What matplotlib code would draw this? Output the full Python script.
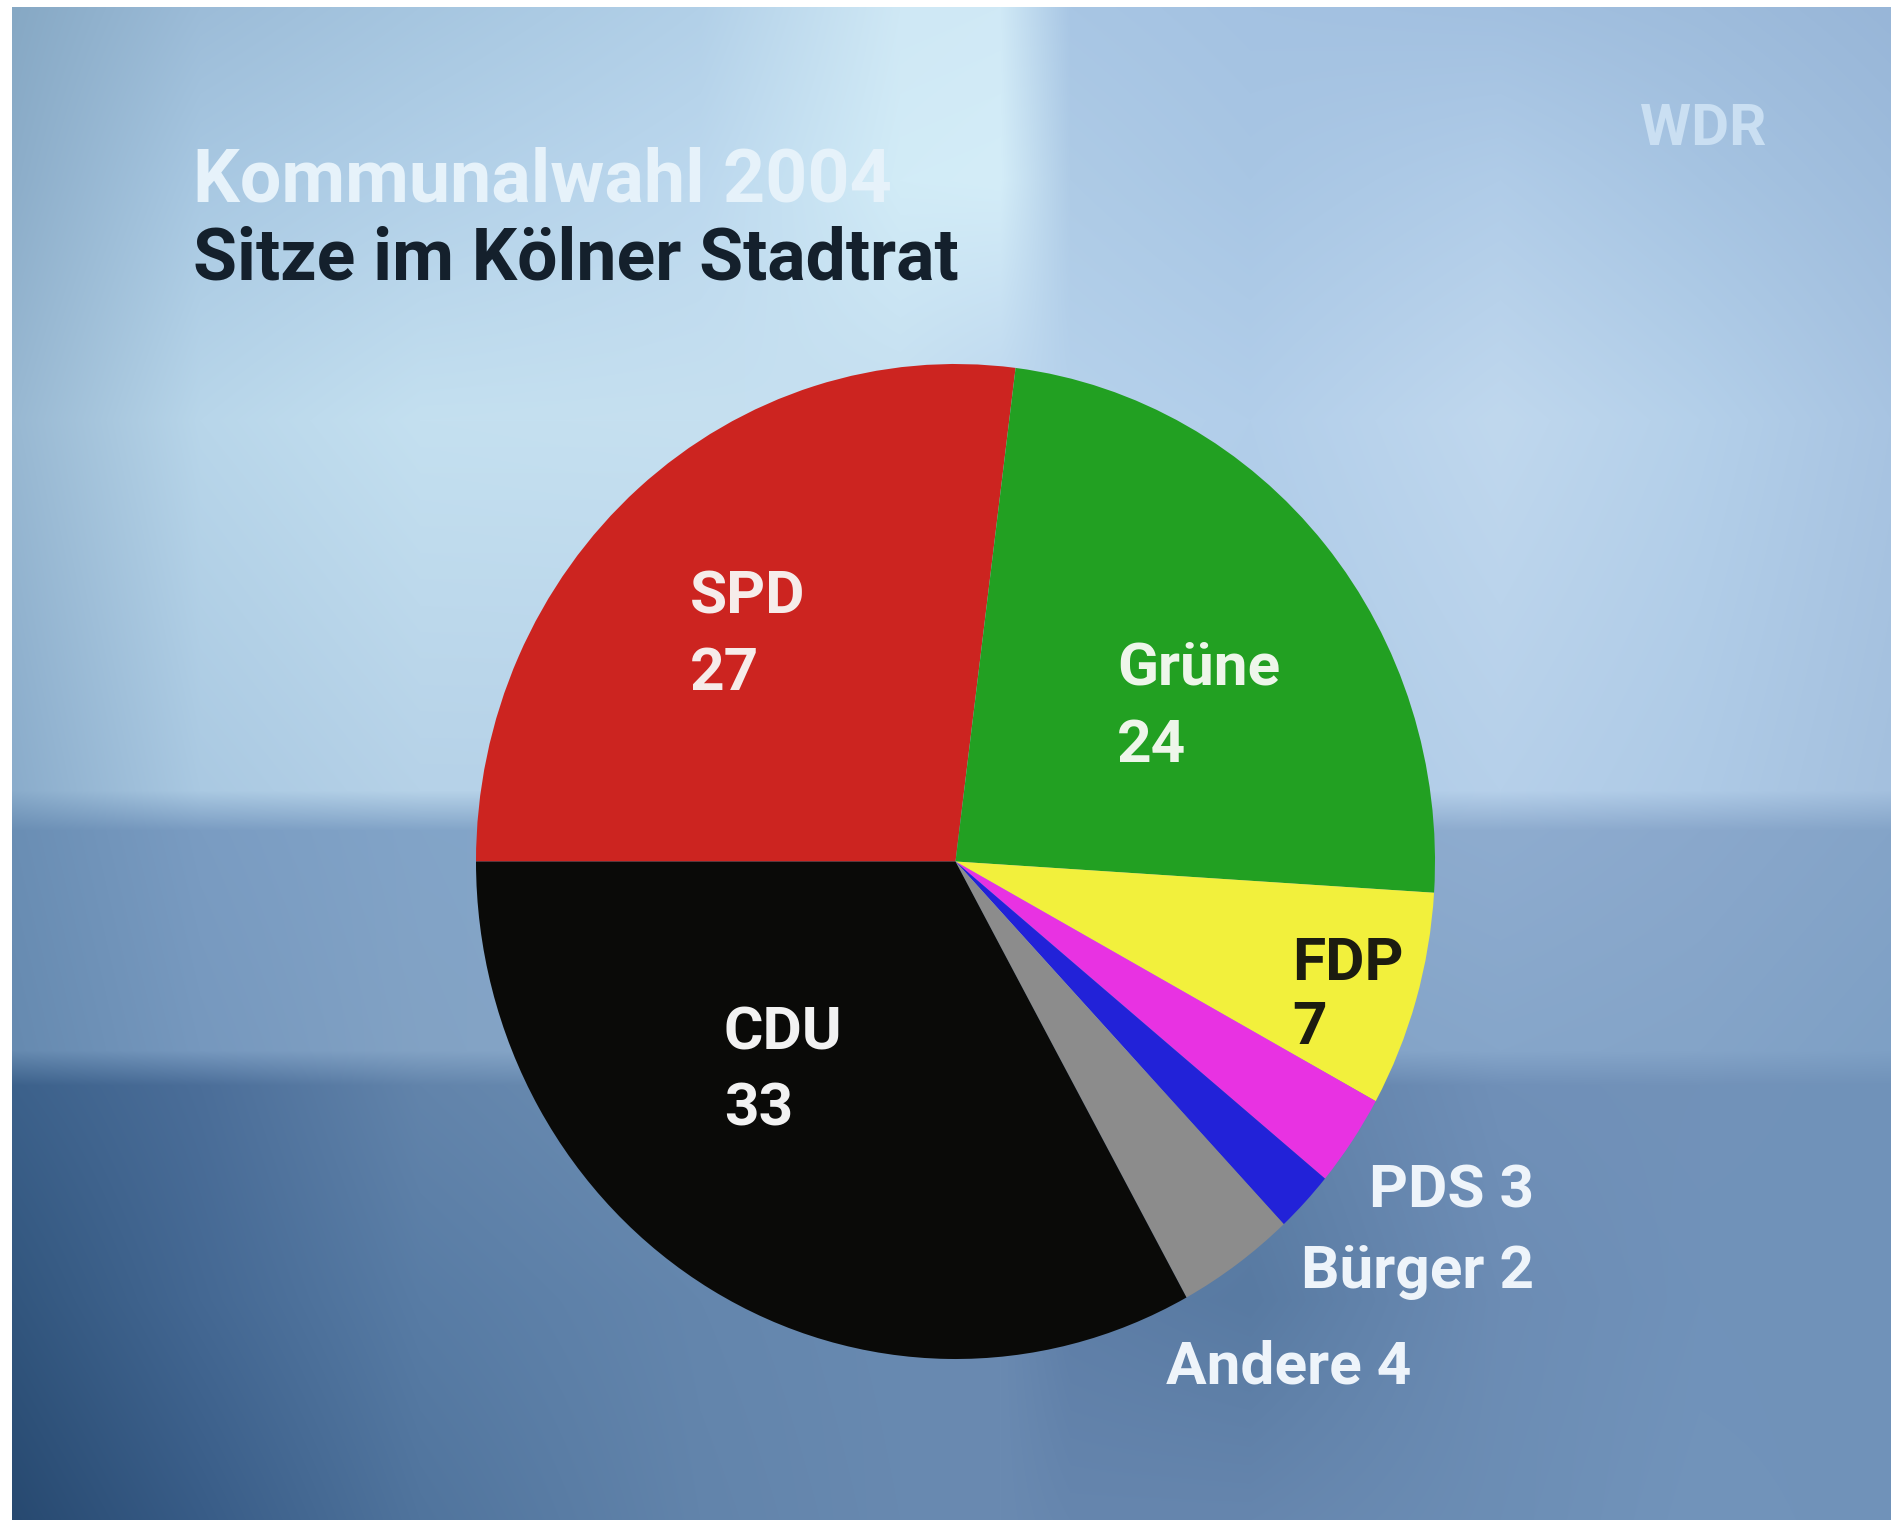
import numpy as np
import matplotlib
matplotlib.use("Agg")
import matplotlib.pyplot as plt
from matplotlib.colors import to_rgb

W, H = 1891, 1520

# seats in the Cologne city council, 2004
parties = ["SPD", "Grüne", "FDP", "PDS", "Bürger", "Andere", "CDU"]
seats = [27, 24, 7, 3, 2, 4, 33]
colors = ["#cc2420", "#22a022", "#f2f03c", "#e832e2", "#2222d8", "#8c8c8c", "#0a0a08"]

title_top = "Kommunalwahl 2004"
title_main = "Sitze im Kölner Stadtrat"
logo = "WDR"

# background: coarse colour grid (pixel coords), smoothed by interpolation
bg_x = [12, 200, 420, 700, 900, 1000, 1070, 1250, 1500, 1700, 1891]
bg_y = [7, 180, 420, 790, 830, 1050, 1085, 1300, 1520]
bg_rows = [
    ["#86a8c4", "#9cbcd8", "#a6c6e0", "#b2d0e8", "#cfe8f5", "#d0e9f6", "#a8c6e4", "#a4c2e2", "#a2c0e0", "#9ebcdc", "#98b6d8"],
    ["#8cadc9", "#a8c8e2", "#b2d0e8", "#bcd8ee", "#d2ecf7", "#d4edf8", "#aecbe6", "#a8c6e4", "#b0cce8", "#a6c4e2", "#9ebcdc"],
    ["#98b8d2", "#b8d6ea", "#c4e0f0", "#c6e0f0", "#c4def0", "#bcd6ee", "#b6d2ec", "#b2ceea", "#c0d8ee", "#b4d0ea", "#a8c4e2"],
    ["#8aaccb", "#aac9e2", "#b6d2e8", "#b6d2e9", "#b4d0e9", "#b2cee9", "#b0cce8", "#accae6", "#b6d0ea", "#aecae6", "#a4c0de"],
    ["#6a8eb4", "#7a9cc2", "#82a4c8", "#88a9ca", "#8eaece", "#92b0d0", "#90aed0", "#8aa9cc", "#8eaccf", "#8aa8cc", "#84a4c8"],
    ["#668ab0", "#7698be", "#82a2c4", "#88a8ca", "#8cacce", "#8eaecf", "#88a8cb", "#82a2c6", "#86a6ca", "#84a4c8", "#7ea0c5"],
    ["#3c618b", "#4b6e99", "#6284ab", "#6c8eb3", "#7494ba", "#7696bc", "#6a8bb3", "#5f80a8", "#7090b8", "#7292b9", "#7092b9"],
    ["#32567e", "#446893", "#587ca5", "#6486ad", "#688ab1", "#6a8ab1", "#5e7ea7", "#587aa2", "#6c8cb4", "#7092ba", "#7092b9"],
    ["#274970", "#385c87", "#50749d", "#6284ab", "#6889b0", "#6a8ab1", "#6686ae", "#6686ae", "#6c8eb5", "#7294bb", "#7092b9"],
]

grid = np.array([[to_rgb(c) for c in row] for row in bg_rows])
px = np.arange(bg_x[0], W)
py = np.arange(bg_y[0], H)
tmp = np.zeros((len(bg_y), len(px), 3))
for i in range(len(bg_y)):
    for ch in range(3):
        tmp[i, :, ch] = np.interp(px, bg_x, grid[i, :, ch])
img = np.zeros((len(py), len(px), 3))
for ch in range(3):
    for j in range(len(px)):
        img[:, j, ch] = np.interp(py, bg_y, tmp[:, j, ch])

fig = plt.figure(figsize=(W / 100, H / 100), dpi=100)
fig.patch.set_facecolor("white")

bg = fig.add_axes([0, 0, 1, 1])
bg.imshow(img, extent=(bg_x[0], W, H, bg_y[0]), aspect="auto", interpolation="bilinear")
bg.set_xlim(0, W)
bg.set_ylim(H, 0)
bg.axis("off")

# pie (slightly taller than wide, like the TV frame)
left, right, top, bottom = 476, 1435, 364, 1359
pax = fig.add_axes([left / W, 1 - bottom / H, (right - left) / W, (bottom - top) / H])
pax.pie(seats, colors=colors, startangle=180, counterclock=False,
        wedgeprops=dict(linewidth=0))
pax.set_aspect("auto")
pax.set_xlim(-1, 1)
pax.set_ylim(-1, 1)
pax.axis("off")

font = "Roboto"


def put(x, y, s, size, color, ha="left", weight="bold"):
    fig.text(x / W, 1 - y / H, s, fontsize=size, color=color, ha=ha, va="baseline",
             family=font, fontweight=weight)


put(193, 201, title_top, 53, "#e6f2fa")
put(193, 279, title_main, 51.5, "#14202c")
put(1640, 145, logo, 42, "#cadff2")

# labels inside the big slices: name on top, seats below
inner = [("SPD", 690, 613, 77, "#f6ecea"), ("Grüne", 1117, 685, 77, "#eef6ea"),
         ("FDP", 1292, 980, 64, "#1c1c10"), ("CDU", 724, 1049, 77, "#f2f2f2")]
for name, x, y, gap, c in inner:
    k = parties.index(name)
    put(x, y, name, 43.5, c)
    put(x, y + gap, str(seats[k]), 43.5, c)

# small slices labelled outside
outer = [("PDS", 1534, 1208, "right"), ("Bürger", 1534, 1288, "right"),
         ("Andere", 1166, 1384, "left")]
for name, x, y, ha in outer:
    k = parties.index(name)
    put(x, y, f"{name} {seats[k]}", 43.5, "#eef4fa", ha=ha)

fig.savefig("out.png", dpi=100, facecolor="white")
